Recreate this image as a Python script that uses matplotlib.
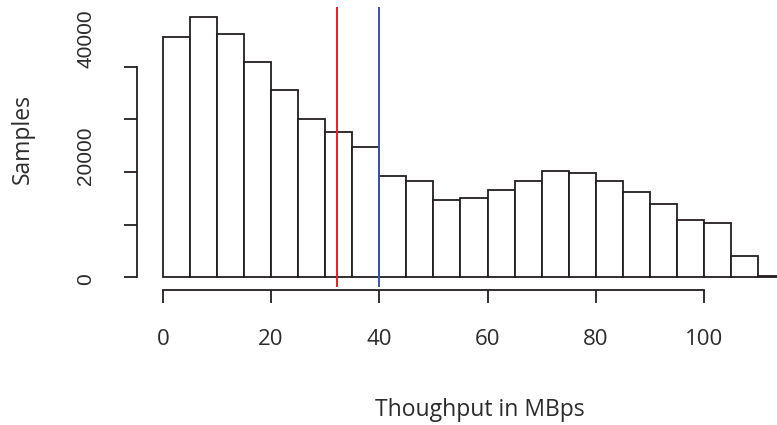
import numpy as np
import matplotlib
matplotlib.use("Agg")
import matplotlib.pyplot as plt
from matplotlib.transforms import ScaledTranslation

# histogram of throughput samples, 5 MBps bins
bin_edges = np.arange(0, 120, 5)
counts = [45580, 49490, 46260, 40940, 35630, 30000, 27590, 24690,
          19240, 18340, 14680, 15000, 16520, 18340, 20130, 19860,
          18340, 16260, 13860, 10880, 10370, 4040, 250]

mean_line = 32.1     # red marker
median_line = 40.0   # blue marker

x_ticks = [0, 20, 40, 60, 80, 100]
y_ticks = [0, 10000, 20000, 30000, 40000]
y_tick_labels = ["0", "", "20000", "", "40000"]

ink = "#231f20"
text_col = "#2b2b2b"

fig = plt.figure(figsize=(7.77, 4.25), dpi=100)
W, H = 777, 425
left_px, right_px, top_px, bot_px = 137.1, 777, 6.7, 287
ax = fig.add_axes([left_px / W, 1 - bot_px / H,
                   (right_px - left_px) / W, (bot_px - top_px) / H])

ax.bar(bin_edges[:-1], counts, width=5, align="edge", color="white",
       edgecolor=ink, linewidth=1.3)
ax.axvline(mean_line, color="#ed1c24", lw=1.4)
ax.axvline(median_line, color="#3953a4", lw=1.4)

ax.set_xlim(-4.77, 113.5)
ax.set_ylim(-1842, 51390)

for s in ["top", "right"]:
    ax.spines[s].set_visible(False)
ax.spines["left"].set_bounds(0, 40000)
ax.spines["bottom"].set_bounds(0, 100)
ax.spines["bottom"].set_position(("outward", 2.2))
for s in ["left", "bottom"]:
    ax.spines[s].set_linewidth(1.3)
    ax.spines[s].set_color(ink)

ax.set_xticks(x_ticks)
ax.set_xticklabels([str(v) for v in x_ticks], fontfamily="Open Sans",
                   fontsize=16, color=text_col)
ax.set_yticks(y_ticks)
ax.set_yticklabels(y_tick_labels, rotation=90, va="center",
                   fontfamily="Liberation Sans", fontsize=15, color=text_col)
ax.tick_params(axis="both", direction="out", length=9.7, width=1.3, color=ink)
ax.tick_params(axis="x", pad=18.5)
ax.tick_params(axis="y", pad=20.5)

# nudge the y labels upward the way they sit in the original figure
shifts = {"0": -1.5, "20000": 16.7, "40000": 28.4}
for lab in ax.get_yticklabels():
    dy = shifts.get(lab.get_text(), 0) / 100
    lab.set_transform(lab.get_transform() + ScaledTranslation(0, dy, fig.dpi_scale_trans))

ax.set_xlabel("Thoughput in MBps", fontfamily="Open Sans", fontsize=16.5,
              color=text_col, va="center")
ax.xaxis.set_label_coords(0.535, -0.44)
ax.set_ylabel("Samples", fontfamily="Open Sans", fontsize=16.5,
              color=text_col, va="center")
ax.yaxis.set_label_coords(-0.178, 0.528)

fig.savefig("out.png", dpi=100)
